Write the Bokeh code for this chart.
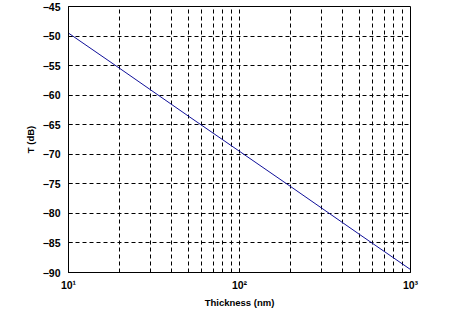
from bokeh.plotting import figure
from bokeh.models import FixedTicker, Range1d
from bokeh.embed import file_html
from bokeh.resources import INLINE

# data
thickness = [10, 20, 50, 100, 200, 500, 1000]
t_db = [-49.5, -55.5, -63.5, -69.5, -75.5, -83.5, -89.5]

x_major = [10, 100, 1000]
x_minor = [20, 30, 40, 50, 60, 70, 80, 90, 200, 300, 400, 500, 600, 700, 800, 900]
x_labels = {10: "10\u00b9", 100: "10\u00b2", 1000: "10\u00b3"}
y_ticks = [-90, -85, -80, -75, -70, -65, -60, -55, -50, -45]

FONT = "Liberation Sans"

p = figure(width=454, height=310, x_axis_type="log",
           x_range=Range1d(10, 1000), y_range=Range1d(-90, -45),
           output_backend="svg", toolbar_location=None,
           min_border_left=68, min_border_right=44, min_border_top=6, min_border_bottom=34)
p.background_fill_color = "white"
p.border_fill_color = "white"
p.outline_line_color = "black"
p.outline_line_width = 1

p.line(thickness, t_db, line_color="#10109a", line_width=1)

xt = FixedTicker(ticks=x_major, minor_ticks=x_minor)
yt = FixedTicker(ticks=y_ticks, minor_ticks=[])
p.xaxis.ticker = xt
p.yaxis.ticker = yt
p.xaxis.major_label_overrides = x_labels

for ax in [p.xaxis[0], p.yaxis[0]]:
    ax.axis_line_color = "black"
    ax.major_tick_in = 4
    ax.major_tick_out = 0
    ax.minor_tick_in = 2
    ax.minor_tick_out = 0
    ax.major_label_text_font = FONT
    ax.major_label_text_font_style = "bold"
    ax.major_label_text_font_size = "10.5px"
    ax.major_label_text_color = "black"
    ax.axis_label_text_font = FONT
    ax.axis_label_text_font_style = "bold"
    ax.axis_label_text_font_size = "9.5px"
    ax.axis_label_text_color = "black"

p.xaxis.axis_label = "Thickness (nm)"
p.yaxis.axis_label = "T (dB)"
p.xaxis.major_label_standoff = 6
p.yaxis.major_label_standoff = 8
p.xaxis.axis_label_standoff = 3
p.yaxis.axis_label_standoff = 4

for g in [p.xgrid[0], p.ygrid[0]]:
    g.grid_line_color = "black"
    g.grid_line_dash = "4 3"
    g.grid_line_width = 1
    g.grid_line_alpha = 1.0
p.xgrid.minor_grid_line_color = "black"
p.xgrid.minor_grid_line_dash = "4 3"
p.xgrid.minor_grid_line_width = 1

p.xgrid.ticker = xt
p.ygrid.ticker = yt

html = file_html(p, INLINE)
open("out.html", "w").write(html)
